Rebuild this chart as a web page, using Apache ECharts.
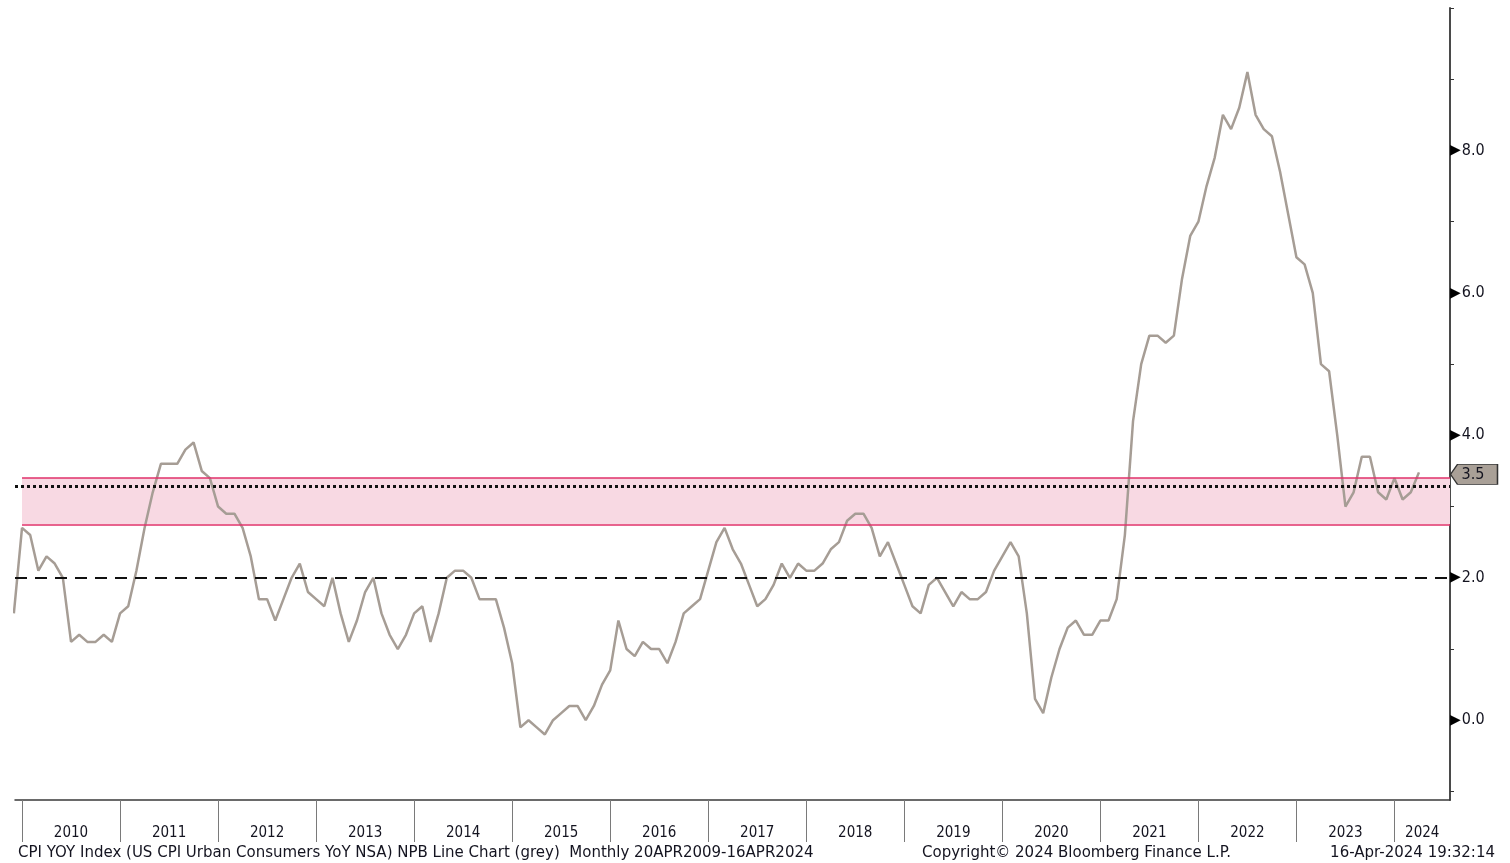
<!DOCTYPE html>
<html>
<head>
<meta charset="utf-8">
<title>CPI YOY Index</title>
<script src="https://cdn.jsdelivr.net/npm/echarts@6/dist/echarts.min.js"></script>
<style>
  html, body { margin: 0; padding: 0; background: #fff; }
  #chart { width: 1510px; height: 863px; }
</style>
</head>
<body>
<div id="chart"></div>
<script>
// monthly CPI YoY (%), Nov 2009 .. Mar 2024
const cpiYoY = [
  1.5, 2.7,
  2.6, 2.1, 2.3, 2.2, 2.0, 1.1, 1.2, 1.1, 1.1, 1.2, 1.1, 1.5,
  1.6, 2.1, 2.7, 3.2, 3.6, 3.6, 3.6, 3.8, 3.9, 3.5, 3.4, 3.0,
  2.9, 2.9, 2.7, 2.3, 1.7, 1.7, 1.4, 1.7, 2.0, 2.2, 1.8, 1.7,
  1.6, 2.0, 1.5, 1.1, 1.4, 1.8, 2.0, 1.5, 1.2, 1.0, 1.2, 1.5,
  1.6, 1.1, 1.5, 2.0, 2.1, 2.1, 2.0, 1.7, 1.7, 1.7, 1.3, 0.8,
  -0.1, 0.0, -0.1, -0.2, 0.0, 0.1, 0.2, 0.2, 0.0, 0.2, 0.5, 0.7,
  1.4, 1.0, 0.9, 1.1, 1.0, 1.0, 0.8, 1.1, 1.5, 1.6, 1.7, 2.1,
  2.5, 2.7, 2.4, 2.2, 1.9, 1.6, 1.7, 1.9, 2.2, 2.0, 2.2, 2.1,
  2.1, 2.2, 2.4, 2.5, 2.8, 2.9, 2.9, 2.7, 2.3, 2.5, 2.2, 1.9,
  1.6, 1.5, 1.9, 2.0, 1.8, 1.6, 1.8, 1.7, 1.7, 1.8, 2.1, 2.3,
  2.5, 2.3, 1.5, 0.3, 0.1, 0.6, 1.0, 1.3, 1.4, 1.2, 1.2, 1.4,
  1.4, 1.7, 2.6, 4.2, 5.0, 5.4, 5.4, 5.3, 5.4, 6.2, 6.8, 7.0,
  7.5, 7.9, 8.5, 8.3, 8.6, 9.1, 8.5, 8.3, 8.2, 7.7, 7.1, 6.5,
  6.4, 6.0, 5.0, 4.9, 4.0, 3.0, 3.2, 3.7, 3.7, 3.2, 3.1, 3.4,
  3.1, 3.2, 3.5
];
const firstMonth = -1;          // Nov 2009, month 0 = Dec 2009 (start of 2010)
const years = ['2010', '2011', '2012', '2013', '2014', '2015', '2016', '2017',
  '2018', '2019', '2020', '2021', '2022', '2023', '2024'];
const yTickValues = [-1, 0, 1, 2, 3, 4, 5, 6, 7, 8, 9, 10];
const yLabelValues = [0, 2, 4, 6, 8];
const targetLine = 2.0;
const avgLine = 3.28;
const band = [2.75, 3.4];
const lastValue = 3.48;

const xMin = -0.86, xMax = 174.8;
const font = '"DejaVu Sans Condensed", "DejaVu Sans", sans-serif';
const footFont = '15px "DejaVu Sans", sans-serif';
const textColor = '#141420';

const lineData = cpiYoY.map((v, i) => [firstMonth + i, v]);
lineData[lineData.length - 1][1] = lastValue;
const yearTicks = years.map((y, i) => i * 12);
const yearLabelPos = years.map((y, i) => i < years.length - 1 ? i * 12 + 6 : (i * 12 + xMax) / 2);

const chart = echarts.init(document.getElementById('chart'));
chart.setOption({
  animation: false,
  backgroundColor: '#fff',
  grid: { left: 15, right: 60, top: 8, bottom: 63, containLabel: false },
  xAxis: {
    type: 'value',
    min: xMin,
    max: xMax,
    splitLine: { show: false },
    axisLine: { show: true, onZero: false, lineStyle: { color: '#3a3a3a', width: 1.5 } },
    axisTick: {
      show: true, customValues: yearTicks, length: 42,
      lineStyle: { color: '#7a7a7a', width: 1 }
    },
    axisLabel: {
      customValues: yearLabelPos,
      margin: 26,
      fontFamily: font, fontSize: 15, color: textColor,
      formatter: v => years[Math.min(years.length - 1, Math.floor(v / 12))]
    }
  },
  yAxis: {
    type: 'value',
    position: 'right',
    min: -1.12,
    max: 10,
    splitLine: { show: false },
    axisLine: { show: true, onZero: false, lineStyle: { color: '#4a4a4a', width: 2 } },
    axisTick: {
      show: true, customValues: yTickValues, length: 4,
      lineStyle: { color: '#333', width: 1 }
    },
    axisLabel: {
      customValues: yLabelValues,
      margin: 0,
      formatter: v => '{t|▶}{n|' + v.toFixed(1) + '}',
      rich: {
        t: { fontSize: 14, color: '#000', fontFamily: 'DejaVu Sans', padding: [0, 1, 0, 0] },
        n: { fontFamily: font, fontSize: 16, color: textColor }
      }
    }
  },
  series: [{
    type: 'line',
    data: lineData,
    showSymbol: false,
    lineStyle: { color: '#a69d95', width: 2.5 },
    z: 3,
    markArea: {
      silent: true,
      itemStyle: { color: '#f8d9e3' },
      data: [[{ coord: [0, band[0]] }, { coord: [xMax, band[1]] }]]
    },
    markLine: {
      silent: true,
      symbol: 'none',
      label: { show: false },
      data: [
        [{ coord: [0, band[1]], lineStyle: { color: '#e0306a', width: 1.5, type: 'solid' } },
         { coord: [xMax, band[1]] }],
        [{ coord: [0, band[0]], lineStyle: { color: '#e0306a', width: 1.5, type: 'solid' } },
         { coord: [xMax, band[0]] }],
        { yAxis: avgLine, lineStyle: { color: '#111', width: 3, type: [3, 3] } },
        { yAxis: targetLine, lineStyle: { color: '#111', width: 2, type: [12, 8] } }
      ]
    },
    markPoint: {
      silent: true,
      symbol: 'path://M0,10 L8,0 L54,0 L54,20 L8,20 Z',
      symbolSize: [47, 20],
      symbolKeepAspect: false,
      symbolOffset: [24, 2],
      itemStyle: { color: '#a9a097', borderColor: '#333', borderWidth: 1 },
      label: {
        show: true, position: 'inside', offset: [-1, 0],
        fontFamily: font, fontSize: 16, color: textColor,
        formatter: p => p.value.toFixed(1)
      },
      data: [{ coord: [xMax, lastValue], value: lastValue }]
    }
  }],
  graphic: [
    {
      type: 'text', left: 18, top: 846,
      style: {
        text: 'CPI YOY Index (US CPI Urban Consumers YoY NSA) NPB Line Chart (grey)  Monthly 20APR2009-16APR2024',
        font: footFont, fill: textColor
      }
    },
    {
      type: 'text', left: 922, top: 846,
      style: { text: 'Copyright© 2024 Bloomberg Finance L.P.', font: footFont, fill: textColor }
    },
    {
      type: 'text', right: 15, top: 846,
      style: { text: '16-Apr-2024 19:32:14', font: footFont, fill: textColor }
    }
  ]
});
</script>
</body>
</html>
